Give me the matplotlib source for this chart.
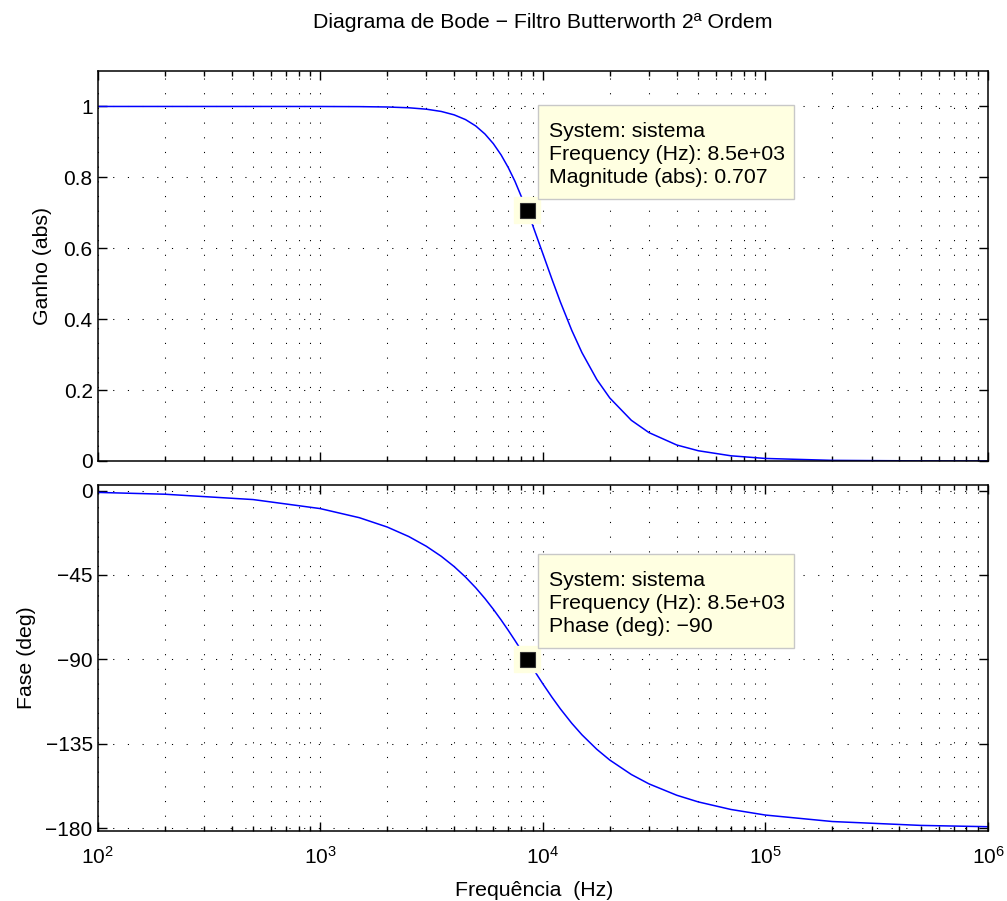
import matplotlib
matplotlib.use("Agg")
import matplotlib.pyplot as plt
import matplotlib.transforms as mtransforms
from matplotlib.patches import Rectangle
from matplotlib.ticker import LogLocator, NullFormatter

plt.rcParams['font.family'] = ['Liberation Sans', 'DejaVu Sans']
plt.rcParams['mathtext.default'] = 'regular'

# Frequency points (Hz)
freq = [100, 200, 500, 1000, 1500, 2000, 2500, 3000, 3500, 4000, 4500, 5000,
        5500, 6000, 6500, 7000, 7500, 8500, 9000, 10000, 11000, 12000, 13500,
        15000, 17500, 20000, 25000, 30000, 40000, 50000, 70000, 100000,
        200000, 500000, 1000000]
# Magnitude (abs)
mag = [1.0, 1.0, 1.0, 0.9999, 0.9995, 0.9985, 0.9963, 0.9923, 0.9859, 0.9763,
       0.9629, 0.945, 0.9223, 0.895, 0.8633, 0.8276, 0.789, 0.7071, 0.6657,
       0.5856, 0.5127, 0.4485, 0.3685, 0.3057, 0.2296, 0.1778, 0.1148, 0.0801,
       0.0451, 0.0289, 0.0147, 0.0072, 0.0018, 0.0003, 0.0001]
# Phase (deg)
phase = [-0.95, -1.91, -4.77, -9.58, -14.44, -19.41, -24.48, -29.69, -35.04,
         -40.52, -46.13, -51.83, -57.57, -63.32, -69.0, -74.55, -79.94, -90.0,
         -94.62, -103.0, -110.23, -116.44, -124.13, -130.27, -138.04, -143.74,
         -151.46, -156.46, -162.53, -166.09, -170.11, -173.09, -176.55,
         -178.62, -179.31]

tip_freq = 8500
tip_mag = 0.707
tip_phase = -90
tip_mag_text = "System: sistema\nFrequency (Hz): 8.5e+03\nMagnitude (abs): 0.707"
tip_phase_text = "System: sistema\nFrequency (Hz): 8.5e+03\nPhase (deg): \u221290"

title = "Diagrama de Bode \u2212 Filtro Butterworth 2\u00aa Ordem"
xlabel = "Frequ\u00eancia  (Hz)"
ylabel_mag = "Ganho (abs)"
ylabel_phase = "Fase (deg)"
mag_ticks = [0, 0.2, 0.4, 0.6, 0.8, 1]
mag_ticklabels = ["0", "0.2", "0.4", "0.6", "0.8", "1"]
phase_ticks = [0, -45, -90, -135, -180]
phase_ticklabels = ["0", "\u221245", "\u221290", "\u2212135", "\u2212180"]

W, H = 1007, 901
PX = 72 / 100  # points per pixel
fig = plt.figure(figsize=(W / 100, H / 100), dpi=100)
L, R = 97.5 / W, 988 / W
ax1 = fig.add_axes([L, 1 - 461 / H, R - L, (461 - 71) / H])
ax2 = fig.add_axes([L, 1 - 831 / H, R - L, (831 - 485) / H])

grid_style = dict(color='black', linewidth=0.75, linestyle=(0, (1.1, 13.0)))
tip_fc = '#ffffe1'
LABEL_FS = 15.3

for ax in (ax1, ax2):
    ax.set_xscale('log')
    ax.set_xlim(1e2, 1e6)
    ax.xaxis.set_major_locator(LogLocator(base=10, numticks=10))
    ax.xaxis.set_minor_locator(LogLocator(base=10, subs=range(2, 10), numticks=20))
    ax.xaxis.set_minor_formatter(NullFormatter())
    ax.tick_params(which='both', direction='in', top=True, right=True,
                   labelsize=15, width=1.0)
    ax.tick_params(which='major', length=6.5)
    ax.tick_params(which='minor', length=3.5)
    ax.grid(True, which='major', axis='both', **grid_style)
    ax.grid(True, which='minor', axis='x', **grid_style)
    for s in ax.spines.values():
        s.set_linewidth(1.1)

ax1.plot(freq, mag, color='#0000ff', linewidth=1.1)
ax1.set_ylim(0, 1.1)
ax1.set_yticks(mag_ticks)
ax1.set_yticklabels(mag_ticklabels)
ax1.tick_params(axis='x', labelbottom=False)
ax1.set_ylabel(ylabel_mag, fontsize=LABEL_FS, labelpad=8)

ax2.plot(freq, phase, color='#0000ff', linewidth=1.1)
ax2.set_ylim(-181.6, 3)
ax2.set_yticks(phase_ticks)
ax2.set_yticklabels(phase_ticklabels)
ax2.set_ylabel(ylabel_phase, fontsize=LABEL_FS, labelpad=7)
ax2.set_xlabel(xlabel, fontsize=LABEL_FS, labelpad=9)
ax2.tick_params(axis='x', pad=11)
ax2.xaxis.label.set_x((534 / W - L) / (R - L))

fig.text((L + R) / 2, 1 - 23 / H, title, ha='center', va='center', fontsize=LABEL_FS)

TIP_FS = 15.3
renderer = fig.canvas.get_renderer()
for ax, yv, txt in ((ax1, tip_mag, tip_mag_text), (ax2, tip_phase, tip_phase_text)):
    ax.plot([tip_freq], [yv], marker='s', markersize=26 * PX, color=tip_fc,
            markeredgecolor=tip_fc, zorder=5, clip_on=False)
    ax.plot([tip_freq], [yv], marker='s', markersize=15 * PX, color='black',
            markeredgecolor='#333333', markeredgewidth=0.8, zorder=6, clip_on=False)
    trans = mtransforms.offset_copy(ax.transData, fig=fig, x=22 * PX, y=23 * PX,
                                    units='points')
    t = ax.text(tip_freq, yv, txt, transform=trans, ha='left', va='bottom',
                fontsize=TIP_FS, linespacing=1.27, zorder=8)
    bb = t.get_window_extent(renderer)
    px, py = ax.transData.transform((tip_freq, yv))
    x0, y0 = px + 11, py + 11
    x1, y1 = bb.x1 + 9, bb.y1 + 17
    rect = Rectangle((x0, y0), x1 - x0, y1 - y0, transform=mtransforms.IdentityTransform(),
                     facecolor=tip_fc, edgecolor='#c8c8c8', linewidth=1.0,
                     zorder=7, clip_on=False)
    ax.add_artist(rect)

fig.savefig('out.png', dpi=100, facecolor='white')
